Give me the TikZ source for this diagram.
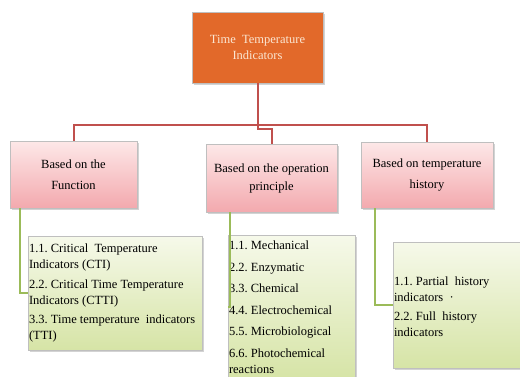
\documentclass[tikz,border=0pt]{standalone}
\usepackage{fontspec}
\setmainfont{Liberation Serif}
\usetikzlibrary{shadows}
\definecolor{ttiorange}{HTML}{E2692A}
\definecolor{ttitext}{HTML}{FBE6D2}
\definecolor{ttired}{HTML}{C0504D}
\definecolor{ttigreen}{HTML}{9BBB59}
\definecolor{pinkT}{HTML}{FDE8E8}
\definecolor{pinkB}{HTML}{F3A9AE}
\definecolor{greenT}{HTML}{F6F9EA}
\definecolor{greenB}{HTML}{D6E4A6}
\frenchspacing

\begin{document}
\begin{tikzpicture}[x=1pt,y=-1pt,box/.style={shape=rectangle,draw=black!25,inner sep=1pt,drop shadow={shadow xshift=1.5pt,shadow yshift=-1.5pt,opacity=0.35}},boxT/.style={box,fill=ttiorange,text=ttitext,align=center,font=\fontsize{12.5}{16}\selectfont\frenchspacing},boxB/.style={box,top color=pinkT,bottom color=pinkB,align=center,font=\fontsize{12.5}{21}\selectfont\frenchspacing},boxL/.style={box,top color=greenT,bottom color=greenB,align=flush left,font=\fontsize{12.5}{16}\selectfont\frenchspacing},tree/.style={draw=ttired,line width=2pt},leaf/.style={draw=ttigreen,line width=2pt}]
\def\ybar{125};
\def\gap{3.5pt};
\def\gapb{5.5pt};

\useasboundingbox (0,0) rectangle (520,376);

\node[boxT,minimum width=131pt,minimum height=71pt] (T) at (257.5,47.5) {Time\ \ Temperature\\Indicators};

\node[boxB,minimum width=127pt,minimum height=67pt] (F) at (73.5,174.5) {Based on the\\Function};
\node[boxB,minimum width=131pt,minimum height=68pt,font=\fontsize{12.5}{18}\selectfont] (P) at (271.5,178) {Based on the operation\\principle};
\node[boxB,minimum width=132pt,minimum height=66pt] (H) at (427,175) {Based on temperature\\history};

\coordinate (bar) at (0,\ybar);
\coordinate (barP) at (0,\ybar+4);
\draw[tree] (T.south) -- (T.south |- bar) -| (F.north);
\draw[tree] (T.south |- bar) -| (H.north);
\draw[tree] (T.south) -- (T.south |- barP) -| (P.north);

\node[boxL,text width=172pt,minimum height=114pt] (FL) at (115,293) {1.1. Critical\ \ Temperature\\Indicators (CTI)\\[\gap]2.2. Critical Time Temperature\\Indicators (CTTI)\\[\gap]3.3. Time temperature\ \ indicators\\(TTI)};
\draw[leaf] ([xshift=-53.5pt]F.south) |- (FL.west);

\node[boxL,text width=125pt,minimum height=144pt] (PL) at (291.5,307) {1.1. Mechanical\\[\gapb]2.2. Enzymatic\\[\gapb]3.3. Chemical\\[\gapb]4.4. Electrochemical\\[\gapb]5.5. Microbiological\\[\gapb]6.6. Photochemical\\reactions};
\draw[leaf] ([xshift=-41.5pt]P.south) |- (PL.west);

\node[boxL,text width=135pt,minimum height=126pt] (HL) at (461.5,305) {\\[-4pt]1.1. Partial\ \ history\\indicators\ \ ·\\[\gap]2.2. Full\ \ history\\indicators};
\draw[leaf] ([xshift=-52pt]H.south) |- (HL.west);
\end{tikzpicture}
\end{document}
